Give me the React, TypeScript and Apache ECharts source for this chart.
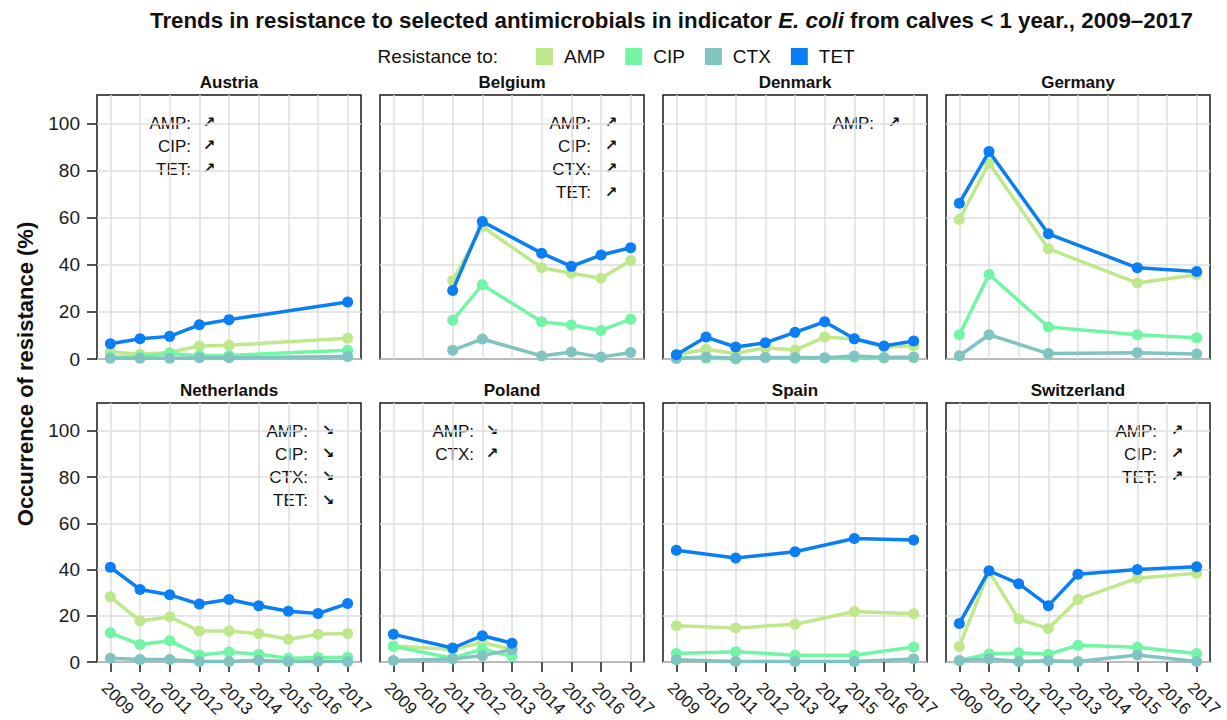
import React, { useEffect, useRef } from "react";
import * as echarts from "echarts";

const drugs = ["AMP", "CIP", "CTX", "TET"];
const drugColors = ["#bfe88c", "#72f5a5", "#80c4c2", "#0a7ff5"];
const yearTicks = [2009, 2010, 2011, 2012, 2013, 2014, 2015, 2016, 2017];
const pctTicks = [0, 20, 40, 60, 80, 100];

const austriaYears = [2009, 2010, 2011, 2012, 2013, 2017];
const austriaAMP = [3.0, 2.0, 2.8, 5.5, 5.8, 8.8];
const austriaCIP = [0.8, 1.0, 2.3, 1.5, 1.5, 3.7];
const austriaCTX = [0.3, 0.3, 0.3, 0.5, 0.5, 1.1];
const austriaTET = [6.5, 8.6, 9.6, 14.5, 16.7, 24.2];
const austriaTrendDrugs = ["AMP", "CIP", "TET"];
const austriaTrendDirs = ["↗", "↗", "↗"];

const belgiumYears = [2011, 2012, 2014, 2015, 2016, 2017];
const belgiumAMP = [33.3, 56.2, 38.7, 36.4, 34.3, 41.8];
const belgiumCIP = [16.4, 31.5, 15.8, 14.4, 12.1, 16.9];
const belgiumCTX = [3.7, 8.5, 1.3, 3.0, 0.8, 2.8];
const belgiumTET = [29.1, 58.3, 44.9, 39.3, 44.1, 47.2];
const belgiumTrendDrugs = ["AMP", "CIP", "CTX", "TET"];
const belgiumTrendDirs = ["↗", "↗", "↗", "↗"];

const denmarkYears = [2009, 2010, 2011, 2012, 2013, 2014, 2015, 2016, 2017];
const denmarkAMP = [1.8, 4.1, 2.3, 4.8, 3.8, 9.3, 8.5, 5.1, 5.6];
const denmarkCIP = [0.5, 0.3, 0.0, 0.6, 0.3, 0.4, 0.7, 0.4, 0.5];
const denmarkCTX = [0.2, 0.8, 0.3, 0.6, 0.6, 0.5, 1.3, 0.6, 0.8];
const denmarkTET = [1.8, 9.3, 5.1, 6.9, 11.3, 15.8, 8.6, 5.5, 7.6];
const denmarkTrendDrugs = ["AMP"];
const denmarkTrendDirs = ["↗"];

const germanyYears = [2009, 2010, 2012, 2015, 2017];
const germanyAMP = [59.2, 83.1, 46.8, 32.2, 35.7];
const germanyCIP = [10.3, 35.9, 13.6, 10.3, 9.0];
const germanyCTX = [1.4, 10.3, 2.3, 2.7, 2.1];
const germanyTET = [66.1, 88.0, 53.1, 38.7, 37.1];
const germanyTrendDrugs: string[] = [];
const germanyTrendDirs: string[] = [];

const netherlandsYears = [2009, 2010, 2011, 2012, 2013, 2014, 2015, 2016, 2017];
const netherlandsAMP = [28.2, 17.8, 19.6, 13.4, 13.4, 12.3, 9.9, 12.0, 12.4];
const netherlandsCIP = [12.7, 7.6, 9.2, 3.1, 4.4, 3.4, 1.7, 2.0, 2.1];
const netherlandsCTX = [1.7, 1.1, 1.1, 0.3, 0.3, 0.8, 0.3, 0.4, 0.3];
const netherlandsTET = [41.0, 31.4, 29.1, 25.1, 27.1, 24.4, 22.0, 21.0, 25.3];
const netherlandsTrendDrugs = ["AMP", "CIP", "CTX", "TET"];
const netherlandsTrendDirs = ["↘", "↘", "↘", "↘"];

const polandYears = [2009, 2011, 2012, 2013];
const polandAMP = [7.0, 5.5, 8.5, 5.4];
const polandCIP = [6.8, 1.7, 5.6, 2.5];
const polandCTX = [0.7, 1.4, 2.8, 5.4];
const polandTET = [12.0, 6.1, 11.4, 8.2];
const polandTrendDrugs = ["AMP", "CTX"];
const polandTrendDirs = ["↘", "↗"];

const spainYears = [2009, 2011, 2013, 2015, 2017];
const spainAMP = [15.7, 14.7, 16.4, 21.9, 20.9];
const spainCIP = [3.7, 4.5, 3.0, 3.0, 6.5];
const spainCTX = [1.0, 0.3, 0.3, 0.3, 1.4];
const spainTET = [48.4, 45.0, 47.7, 53.4, 52.8];
const spainTrendDrugs: string[] = [];
const spainTrendDirs: string[] = [];

const switzerlandYears = [2009, 2010, 2011, 2012, 2013, 2015, 2017];
const switzerlandAMP = [6.8, 39.1, 18.6, 14.5, 27.1, 36.3, 38.4];
const switzerlandCIP = [0.7, 3.5, 4.0, 3.4, 7.3, 6.4, 3.7];
const switzerlandCTX = [0.7, 1.4, 0.3, 0.6, 0.3, 3.1, 0.3];
const switzerlandTET = [16.7, 39.5, 33.9, 24.4, 38.0, 40.0, 41.2];
const switzerlandTrendDrugs = ["AMP", "CIP", "TET"];
const switzerlandTrendDirs = ["↗", "↗", "↗"];

const panels = [
  { name: "Austria", years: austriaYears, values: [austriaAMP, austriaCIP, austriaCTX, austriaTET], trendDrugs: austriaTrendDrugs, trendDirs: austriaTrendDirs },
  { name: "Belgium", years: belgiumYears, values: [belgiumAMP, belgiumCIP, belgiumCTX, belgiumTET], trendDrugs: belgiumTrendDrugs, trendDirs: belgiumTrendDirs },
  { name: "Denmark", years: denmarkYears, values: [denmarkAMP, denmarkCIP, denmarkCTX, denmarkTET], trendDrugs: denmarkTrendDrugs, trendDirs: denmarkTrendDirs },
  { name: "Germany", years: germanyYears, values: [germanyAMP, germanyCIP, germanyCTX, germanyTET], trendDrugs: germanyTrendDrugs, trendDirs: germanyTrendDirs },
  { name: "Netherlands", years: netherlandsYears, values: [netherlandsAMP, netherlandsCIP, netherlandsCTX, netherlandsTET], trendDrugs: netherlandsTrendDrugs, trendDirs: netherlandsTrendDirs },
  { name: "Poland", years: polandYears, values: [polandAMP, polandCIP, polandCTX, polandTET], trendDrugs: polandTrendDrugs, trendDirs: polandTrendDirs },
  { name: "Spain", years: spainYears, values: [spainAMP, spainCIP, spainCTX, spainTET], trendDrugs: spainTrendDrugs, trendDirs: spainTrendDirs },
  { name: "Switzerland", years: switzerlandYears, values: [switzerlandAMP, switzerlandCIP, switzerlandCTX, switzerlandTET], trendDrugs: switzerlandTrendDrugs, trendDirs: switzerlandTrendDirs },
];

// layout (positions only)
const FONT = "Liberation Sans, Arial, Helvetica, sans-serif";
const colLefts = [97, 380, 663, 946];
const rowTops = [95, 403];
const panelW = 264;
const panelH = 264;
const trendSide = ["left", "right", "right", "right", "right", "left", "right", "right"];

export default function App() {
  const ref = useRef<HTMLDivElement>(null);

  useEffect(() => {
    if (!ref.current) return;
    const chart = echarts.init(ref.current, null, { renderer: "svg" });

    const grids: any[] = [];
    const xAxes: any[] = [];
    const yAxes: any[] = [];
    const series: any[] = [];
    const graphics: any[] = [];

    panels.forEach((p, i) => {
      const col = i % 4;
      const row = Math.floor(i / 4);
      const left = colLefts[col];
      const top = rowTops[row];
      grids.push({
        left,
        top,
        width: panelW,
        height: panelH,
        show: true,
        backgroundColor: "#ffffff",
        borderColor: "#1a1a1a",
        borderWidth: 1.5,
        containLabel: false,
      });
      const isBottom = row === 1;
      const isLeft = col === 0;
      xAxes.push({
        type: "value",
        gridIndex: i,
        min: 2008.55,
        max: 2017.45,
        axisLine: { show: false },
        axisTick: {
          show: isBottom,
          length: 10,
          lineStyle: { color: "#1a1a1a", width: 1.5 },
          customValues: yearTicks,
        },
        axisLabel: {
          show: isBottom,
          customValues: yearTicks,
          rotate: -45,
          verticalAlign: "top",
          fontSize: 17,
          color: "#1a1a1a",
          fontFamily: FONT,
          margin: 17,
          formatter: (v: number) => String(Math.round(v)),
        },
        splitLine: { show: true, lineStyle: { color: "#dedede", width: 1.5 } },
      });
      yAxes.push({
        type: "value",
        gridIndex: i,
        min: 0,
        max: 112,
        axisLine: { show: false },
        axisTick: {
          show: isLeft,
          length: 10,
          lineStyle: { color: "#1a1a1a", width: 1.5 },
          customValues: pctTicks,
        },
        axisLabel: {
          show: isLeft,
          customValues: pctTicks,
          fontSize: 19,
          color: "#1a1a1a",
          fontFamily: FONT,
          margin: 17,
        },
        splitLine: { show: true, lineStyle: { color: "#dedede", width: 1.5 } },
      });
      p.values.forEach((vals, d) => {
        series.push({
          type: "line",
          name: drugs[d],
          xAxisIndex: i,
          yAxisIndex: i,
          data: p.years.map((yr, k) => [yr, vals[k]]),
          symbol: "circle",
          symbolSize: 11,
          showSymbol: true,
          lineStyle: { width: 3.5, color: drugColors[d] },
          itemStyle: { color: drugColors[d] },
          color: drugColors[d],
          emphasis: { disabled: true },
          silent: true,
          z: 2 + d,
        });
      });
      // panel title
      graphics.push({
        type: "text",
        x: left + panelW / 2,
        y: top - 13,
        style: {
          text: p.name,
          fill: "#111",
          font: `bold 17px ${FONT}`,
          align: "center",
          verticalAlign: "middle",
          textAlign: "center",
          textVerticalAlign: "middle",
        },
      });
      // trend annotations
      const side = trendSide[i];
      const textRight = left + (side === "left" ? 94 : 211);
      const arrowX = left + (side === "left" ? 112 : 231);
      p.trendDrugs.forEach((dn, k) => {
        const y = top + 28 + k * 23.2;
        graphics.push({
          type: "text",
          x: textRight,
          y,
          style: {
            text: dn + ":",
            fill: "#111",
            font: `17px ${FONT}`,
            align: "right",
            verticalAlign: "middle",
            textAlign: "right",
            textVerticalAlign: "middle",
          },
        });
        graphics.push({
          type: "text",
          x: arrowX,
          y: y - 1,
          style: {
            text: p.trendDirs[k],
            fill: "#111",
            font: `bold 15px DejaVu Sans`,
            align: "center",
            verticalAlign: "middle",
            textAlign: "center",
            textVerticalAlign: "middle",
          },
        });
      });
    });

    // y axis title
    graphics.push({
      type: "text",
      x: 25,
      y: 374,
      rotation: Math.PI / 2,
      style: {
        text: "Occurrence of resistance (%)",
        fill: "#111",
        font: `bold 22px ${FONT}`,
        align: "center",
        verticalAlign: "middle",
        textAlign: "center",
        textVerticalAlign: "middle",
      },
    });
    // legend prefix
    graphics.push({
      type: "text",
      x: 498,
      y: 56,
      style: {
        text: "Resistance to:",
        fill: "#111",
        font: `19px ${FONT}`,
        align: "right",
        verticalAlign: "middle",
        textAlign: "right",
        textVerticalAlign: "middle",
      },
    });

    chart.setOption({
      animation: false,
      backgroundColor: "#ffffff",
      title: {
        left: 150,
        top: 9,
        padding: 0,
        text: "{b|Trends in resistance to selected antimicrobials in indicator }{i|E. coli}{b| from calves < 1 year., 2009–2017}",
        textStyle: {
          rich: {
            b: { fontSize: 22.3, fontWeight: "bold", color: "#111", fontFamily: FONT },
            i: { fontSize: 22.3, fontWeight: "bold", fontStyle: "italic", color: "#111", fontFamily: FONT },
          },
        },
      },
      legend: {
        data: drugs,
        left: 536,
        top: 47,
        padding: 0,
        icon: "rect",
        itemWidth: 17,
        itemHeight: 17,
        itemGap: 20,
        selectedMode: false,
        textStyle: { fontSize: 19, color: "#111", fontFamily: FONT, padding: [0, 0, 0, 6] },
      },
      grid: grids,
      xAxis: xAxes,
      yAxis: yAxes,
      series,
      graphic: graphics,
    });

    return () => chart.dispose();
  }, []);

  return (
    <div
      ref={ref}
      style={{ position: "fixed", left: 0, top: 0, width: 1227, height: 720, background: "#fff" }}
    />
  );
}
